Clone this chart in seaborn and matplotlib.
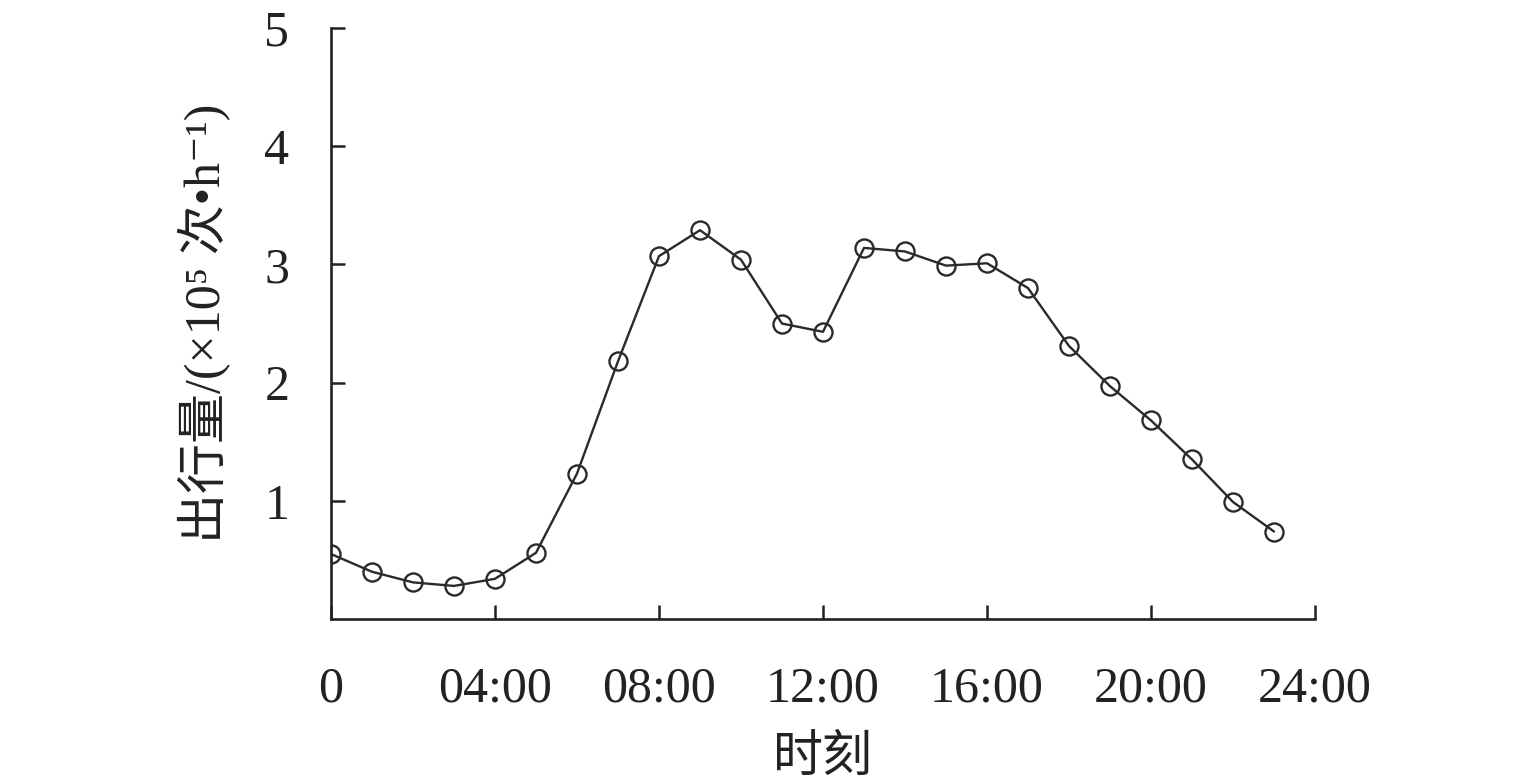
import pandas as pd
import matplotlib.pyplot as plt
import seaborn as sns

# hourly trip volume (x10^5 per hour)
hours = list(range(24))
volume = [0.55, 0.40, 0.31, 0.28, 0.34, 0.56, 1.23, 2.18, 3.07, 3.29,
          3.04, 2.50, 2.43, 3.14, 3.11, 2.99, 3.01, 2.80, 2.31, 1.97,
          1.68, 1.35, 0.99, 0.74]
xtick_pos = [0, 4, 8, 12, 16, 20, 24]
xtick_labels = ['0', '04:00', '08:00', '12:00', '16:00', '20:00', '24:00']
ytick_pos = [1, 2, 3, 4, 5]

trips = pd.DataFrame({'hour': hours, 'volume': volume})

sns.set_style('ticks')
plt.rcParams['font.family'] = ['Liberation Serif', 'Noto Sans CJK SC', 'DejaVu Serif']

fig = plt.figure(figsize=(15.35, 7.8), dpi=100)
ax = fig.add_axes([0.2156, 0.2064, 0.6411, 0.7576])

sns.lineplot(data=trips, x='hour', y='volume', ax=ax, color='#2a2a2a',
             linewidth=1.7, marker='o', markersize=13, markerfacecolor='none',
             markeredgecolor='#2a2a2a', markeredgewidth=1.7)

ax.set_xlim(0, 24)
ax.set_ylim(0, 5)
ax.set_xticks(xtick_pos)
ax.set_xticklabels(xtick_labels)
ax.set_yticks(ytick_pos)
ax.tick_params(direction='in', length=10, width=1.8, labelsize=36, colors='#222222')
ax.tick_params(axis='x', pad=34)
ax.tick_params(axis='y', pad=30)
for side in ['left', 'bottom']:
    ax.spines[side].set_linewidth(1.9)
    ax.spines[side].set_color('#222222')
sns.despine(ax=ax)

ax.set_xlabel('时刻', fontsize=36, color='#222222', labelpad=16)
ax.set_ylabel('出行量/(×10⁵ 次•h⁻¹)', fontsize=36, color='#222222', labelpad=24)

fig.savefig('out.png', dpi=100)
